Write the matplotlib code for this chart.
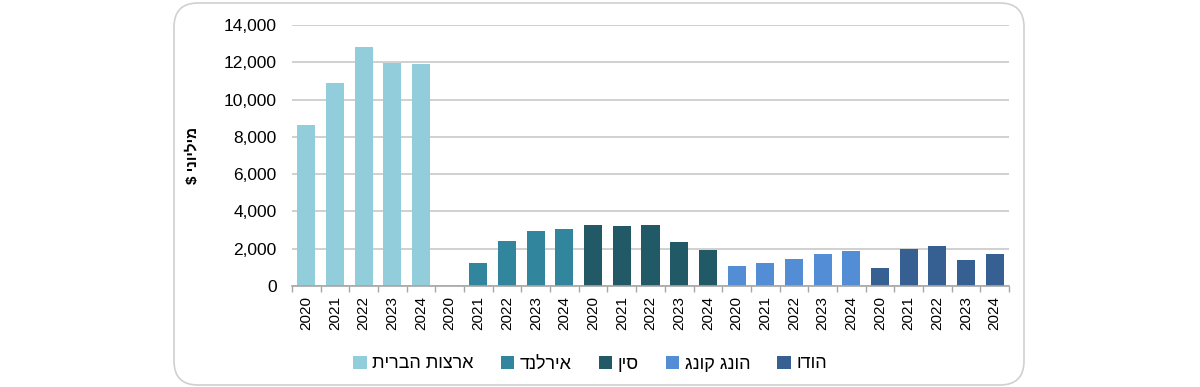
import matplotlib
matplotlib.use("Agg")
import matplotlib.pyplot as plt
from matplotlib.patches import FancyBboxPatch, Patch
from matplotlib.ticker import FuncFormatter, FixedLocator
import numpy as np

plt.rcParams['font.family'] = ['Liberation Sans', 'DejaVu Sans']

years = ["2020", "2021", "2022", "2023", "2024"]
countries = ["ארצות הברית", "אירלנד", "סין", "הונג קונג", "הודו"]
usa = [8650, 10870, 12840, 11980, 11910]
ireland = [0, 1220, 2390, 2970, 3040]
china = [3260, 3220, 3260, 2340, 1930]
hong_kong = [1060, 1250, 1450, 1720, 1900]
india = [980, 2000, 2150, 1410, 1720]
series = [usa, ireland, china, hong_kong, india]
colors = ["#92CDDC", "#31859C", "#215967", "#538DD5", "#366092"]
ylabel = "מיליוני $"

def rtl(s):
    return s[::-1]

fig = plt.figure(figsize=(12, 3.87), dpi=100)
border = FancyBboxPatch((174 / 1200, 2 / 387), (1024 - 174) / 1200, (384 - 2) / 387,
                        boxstyle="round,pad=0,rounding_size=0.02",
                        transform=fig.transFigure, facecolor="white",
                        edgecolor="#D0D0D0", linewidth=1.2, mutation_aspect=3.1,
                        zorder=-10)
fig.add_artist(border)

ax = fig.add_axes([292 / 1200, 1 - 286 / 387, (1009 - 292) / 1200, (286 - 25) / 387])
ax.set_facecolor("none")
ax.set_zorder(5)

labels = []
pos = 0
for vals, col in zip(series, colors):
    x = np.arange(pos, pos + len(vals))
    ax.bar(x, vals, width=0.63, color=col, zorder=3)
    labels += years
    pos += len(vals)

ax.set_xlim(-0.5, pos - 0.5)
ax.set_ylim(0, 14000)
ax.set_yticks(np.arange(0, 14001, 2000))
ax.yaxis.set_major_formatter(FuncFormatter(lambda v, p: f"{int(v):,}"))
ax.set_xticks(np.arange(pos))
ax.set_xticklabels(labels, rotation=90, fontsize=11)
ax.xaxis.set_minor_locator(FixedLocator(np.arange(-0.5, pos, 1.0)))
ax.tick_params(axis='x', which='major', length=0, pad=7)
ax.tick_params(axis='x', which='minor', length=4, color="#A6A6A6", width=1)
ax.tick_params(axis='y', length=0, pad=11, labelsize=12.5)
ax.grid(axis='y', color="#C8C8C8", linewidth=1.2, zorder=0)
for s in ["left", "top", "right"]:
    ax.spines[s].set_visible(False)
ax.spines["bottom"].set_color("#A6A6A6")
ax.spines["bottom"].set_linewidth(1.2)
ax.spines["bottom"].set_zorder(4)

ax.set_ylabel(rtl(ylabel), fontsize=11, fontweight='bold', labelpad=0)
ax.yaxis.set_label_coords((200 - 292) / 717, 0.5)

handles = [Patch(facecolor=c, edgecolor='none') for c in colors]
leg = fig.legend(handles, [rtl(c) for c in countries], ncol=5, loc='center',
                 bbox_to_anchor=(590 / 1200, 1 - 364 / 387), frameon=False,
                 fontsize=13, handlelength=0.75, handleheight=0.75,
                 handletextpad=0.3, columnspacing=1.5)
leg.set_zorder(6)

fig.savefig("out.png", dpi=100)
